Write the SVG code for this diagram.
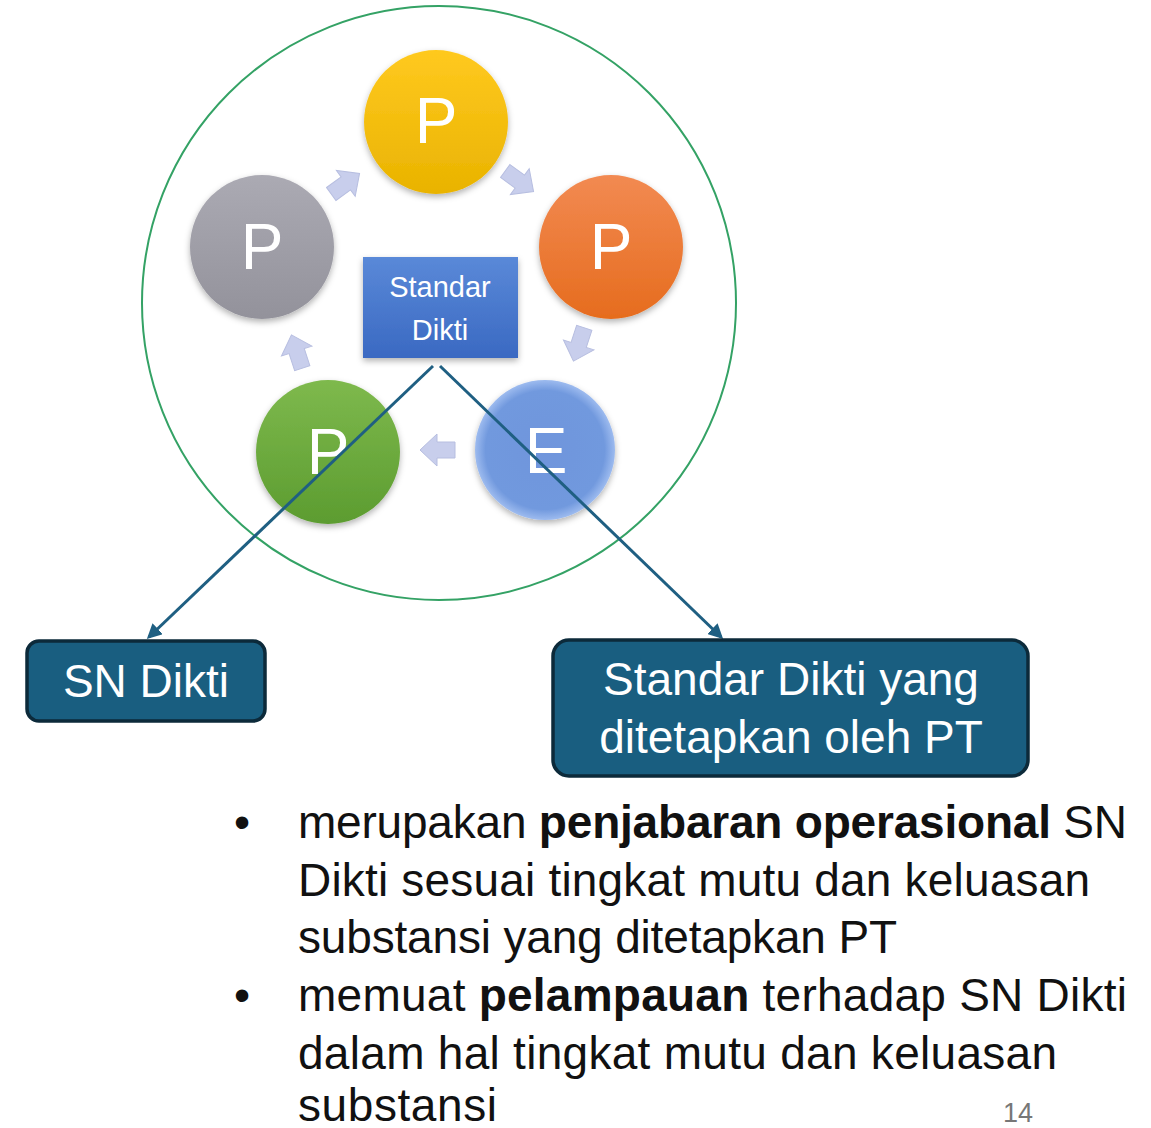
<svg xmlns="http://www.w3.org/2000/svg" width="1151" height="1128" viewBox="0 0 1151 1128">
<defs>
<linearGradient id="gY" x1="0" y1="0" x2="0" y2="1"><stop offset="0" stop-color="#FFC91F"/><stop offset="1" stop-color="#E9B300"/></linearGradient>
<linearGradient id="gO" x1="0" y1="0" x2="0" y2="1"><stop offset="0" stop-color="#F28A52"/><stop offset="1" stop-color="#E66C1E"/></linearGradient>
<linearGradient id="gG" x1="0" y1="0" x2="0" y2="1"><stop offset="0" stop-color="#ABAAB3"/><stop offset="1" stop-color="#93929B"/></linearGradient>
<linearGradient id="gN" x1="0" y1="0" x2="0" y2="1"><stop offset="0" stop-color="#7EB94D"/><stop offset="1" stop-color="#5C9C30"/></linearGradient>
<radialGradient id="gB" cx="0.5" cy="0.5" r="0.5"><stop offset="0" stop-color="#6F95DC"/><stop offset="0.85" stop-color="#7199DE"/><stop offset="1" stop-color="#9DBBEF"/></radialGradient>
<linearGradient id="gBox" x1="0" y1="0" x2="0" y2="1"><stop offset="0" stop-color="#5A89D8"/><stop offset="1" stop-color="#3A69C2"/></linearGradient>
<filter id="sh" x="-20%" y="-20%" width="140%" height="150%"><feDropShadow dx="0" dy="3" stdDeviation="3" flood-color="#000" flood-opacity="0.3"/></filter>
<marker id="ah" viewBox="0 0 10 10" refX="8" refY="5" markerWidth="5" markerHeight="5" orient="auto-start-reverse"><path d="M0,0 L10,5 L0,10 z" fill="#1F5F82"/></marker>
<polygon id="blk" points="-17,-8 1,-8 1,-16 18,0 1,16 1,8 -17,8"/>
<style>
.ring{fill:none;stroke:#34A265;stroke-width:2}
.lt{font-family:"Liberation Sans",Arial,sans-serif;fill:#fff;text-anchor:middle}
.bt{font-family:"Liberation Sans",Arial,sans-serif;fill:#fff;text-anchor:middle;font-size:46px}
.arw{fill:#C8CEEC;stroke:#B7BEE0;stroke-width:1}
.con{stroke:#1F5F82;stroke-width:3;fill:none;marker-end:url(#ah)}
.box{fill:#195E80;stroke:#0C2A3A;stroke-width:3.5}
.tx{font-family:"Liberation Sans",Arial,sans-serif;font-size:46px;fill:#111}
.b{font-weight:bold}
</style>
</defs>
<rect width="1151" height="1128" fill="#fff"/>
<circle class="ring" cx="439" cy="303" r="297"/>

<g id="cycle-arrows">
<use href="#blk" class="arw" transform="translate(345,184) rotate(-36)"/>
<use href="#blk" class="arw" transform="translate(519,181) rotate(36)"/>
<use href="#blk" class="arw" transform="translate(579,344) rotate(108)"/>
<use href="#blk" class="arw" transform="translate(438,450) rotate(180)"/>
<use href="#blk" class="arw" transform="translate(297,352) rotate(-108)"/>
</g>

<g id="node-p-yellow"><circle cx="436" cy="122" r="72" fill="url(#gY)" filter="url(#sh)"/><text class="lt" x="436" y="143" font-size="64">P</text></g>
<g id="node-p-orange"><circle cx="611" cy="247" r="72" fill="url(#gO)" filter="url(#sh)"/><text class="lt" x="611" y="269" font-size="64">P</text></g>
<g id="node-p-grey"><circle cx="262" cy="247" r="72" fill="url(#gG)" filter="url(#sh)"/><text class="lt" x="262" y="269" font-size="64">P</text></g>
<g id="node-p-green"><circle cx="328" cy="452" r="72" fill="url(#gN)" filter="url(#sh)"/><text class="lt" x="328" y="474" font-size="64">P</text></g>
<g id="node-e-blue"><circle cx="545" cy="450" r="70" fill="url(#gB)" filter="url(#sh)"/><text class="lt" x="546" y="473" font-size="64">E</text></g>
<g id="node-standar-dikti"><rect x="363" y="257" width="155" height="101" fill="url(#gBox)" filter="url(#sh)"/><text class="lt" x="440" y="297" font-size="29">Standar</text><text class="lt" x="440" y="340" font-size="29">Dikti</text></g>

<g id="connectors">
<line class="con" x1="433" y1="366" x2="149" y2="637"/>
<line class="con" x1="440" y1="366" x2="721" y2="637"/>
</g>

<g id="node-sn-dikti"><rect class="box" x="27" y="641" width="238" height="80" rx="12"/><text class="bt" x="146" y="697">SN Dikti</text></g>
<g id="node-standar-pt"><rect class="box" x="553" y="640" width="475" height="136" rx="16"/><text class="bt" x="791" y="695">Standar Dikti yang</text><text class="bt" x="791" y="753">ditetapkan oleh PT</text></g>

<g id="bullets">
<text class="tx" x="234" y="838">•</text>
<text class="tx" x="298" y="838" textLength="829" lengthAdjust="spacing">merupakan <tspan class="b">penjabaran operasional</tspan> SN</text>
<text class="tx" x="298" y="896" textLength="792" lengthAdjust="spacing">Dikti sesuai tingkat mutu dan keluasan</text>
<text class="tx" x="298" y="953" textLength="599" lengthAdjust="spacing">substansi yang ditetapkan PT</text>
<text class="tx" x="234" y="1011">•</text>
<text class="tx" x="298" y="1011" textLength="829" lengthAdjust="spacing">memuat <tspan class="b">pelampauan</tspan> terhadap SN Dikti</text>
<text class="tx" x="298" y="1069" textLength="759" lengthAdjust="spacing">dalam hal tingkat mutu dan keluasan</text>
<text class="tx" x="298" y="1121" textLength="199" lengthAdjust="spacing">substansi</text>
</g>
<text x="1018" y="1122" font-family="Liberation Sans,Arial,sans-serif" font-size="27" fill="#777" text-anchor="middle">14</text>
</svg>
